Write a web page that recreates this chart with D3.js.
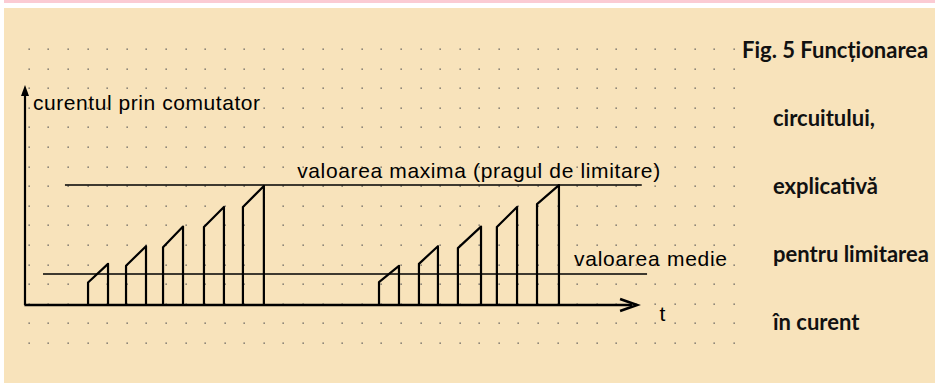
<!DOCTYPE html>
<html>
<head>
<meta charset="utf-8">
<script src="https://cdn.jsdelivr.net/npm/d3@7"></script>
<style>
  body { margin: 0; background: #fff; }
  svg { display: block; }
  .lbl { font-family: "Liberation Sans", Arial, sans-serif; font-size: 21px; fill: #000; }
  .cap { font-family: Lato, "Noto Sans", sans-serif; font-weight: bold; font-size: 22px; fill: #111; }
</style>
</head>
<body>
<script>
var swidth = 935,
    sheight = 383;

// pulses: start / end time and current at start / end of each conduction interval (grid units)
var pulseStart = [3.22, 5.16, 7.05, 9.14, 11.13, 18.08, 20.12, 22.11, 24.1, 26.15];
var pulseEnd   = [4.24, 6.18, 8.07, 10.16, 12.2, 19.1, 21.09, 23.29, 25.13, 27.27];
var riseFrom   = [1.15, 2.0, 2.95, 3.98, 5.0, 1.17, 2.1, 2.9, 3.98, 5.15];
var riseTo     = [2.1, 3.0, 4.0, 5.0, 6.07, 2.0, 3.0, 4.0, 5.0, 6.12];

var maxLevel = 6.12,   // valoarea maxima
    meanLevel = 1.58;  // valoarea medie

var captionLines = ["Fig. 5 Funcționarea", "circuitului,", "explicativă", "pentru limitarea", "în curent"];

var x = d3.scaleLinear().domain([0, 1]).range([25, 25 + 19.58]);
var y = d3.scaleLinear().domain([0, 1]).range([305, 305 - 19.6]);

var svg = d3.select("body").append("svg")
    .attr("width", swidth)
    .attr("height", sheight);

svg.append("rect").attr("width", swidth).attr("height", sheight).attr("fill", "#fff");
svg.append("rect").attr("x", 4).attr("y", 0).attr("width", swidth - 4).attr("height", 3).attr("fill", "#fbcbd3");
svg.append("rect").attr("x", 4).attr("y", 8).attr("width", swidth - 4).attr("height", sheight - 8).attr("fill", "#f8e3bb");

// dotted grid paper
var cols = d3.range(0, 37).map(function(k) { return 0.2 + k; }),
    rows = d3.range(-2, 14).map(function(k) { return 0.06 + k; });
var dots = [];
rows.forEach(function(r) { cols.forEach(function(c) { dots.push([c, r]); }); });

svg.append("g")
  .selectAll("rect")
  .data(dots)
  .enter().append("rect")
  .attr("x", function(d) { return Math.round(x(d[0])) - 0.5; })
  .attr("y", function(d) { return Math.round(y(d[1])) - 0.5; })
  .attr("width", 1.3)
  .attr("height", 1.3)
  .attr("fill", "#555");

// level lines
svg.append("line")
  .attr("x1", x(2.04)).attr("x2", x(31.5))
  .attr("y1", y(maxLevel)).attr("y2", y(maxLevel))
  .attr("stroke", "#000").attr("stroke-width", 1.6);

svg.append("line")
  .attr("x1", x(0.92)).attr("x2", x(31.77))
  .attr("y1", y(meanLevel)).attr("y2", y(meanLevel))
  .attr("stroke", "#000").attr("stroke-width", 1.6);

// pulses
var pulses = pulseStart.map(function(s, i) {
  return [[s, 0], [s, riseFrom[i]], [pulseEnd[i], riseTo[i]], [pulseEnd[i], 0]];
});

var line = d3.line()
    .x(function(d) { return x(d[0]); })
    .y(function(d) { return y(d[1]); });

svg.append("g")
  .selectAll("path")
  .data(pulses)
  .enter().append("path")
  .attr("d", line)
  .attr("fill", "none")
  .attr("stroke", "#000")
  .attr("stroke-width", 2.2)
  .attr("stroke-linejoin", "round");

// axes
svg.append("line")
  .attr("x1", x(0)).attr("x2", x(0))
  .attr("y1", y(0)).attr("y2", y(10.9))
  .attr("stroke", "#000").attr("stroke-width", 2.2);

svg.append("path")
  .attr("d", "M" + x(0) + "," + y(11.22) + "L" + (x(0) - 4) + "," + (y(11.22) + 11) + "L" + (x(0) + 4) + "," + (y(11.22) + 11) + "Z")
  .attr("fill", "#000");

svg.append("line")
  .attr("x1", x(-0.03)).attr("x2", x(31.0))
  .attr("y1", y(0)).attr("y2", y(0))
  .attr("stroke", "#000").attr("stroke-width", 2.6);

var tip = x(31.26), ty = y(0);
svg.append("path")
  .attr("d", "M" + (tip - 17) + "," + (ty - 6) + "L" + tip + "," + ty + "L" + (tip - 17) + "," + (ty + 6))
  .attr("fill", "none").attr("stroke", "#000").attr("stroke-width", 2.6)
  .attr("stroke-linejoin", "miter");

// labels
svg.append("text").attr("class", "lbl")
  .attr("x", x(0.41)).attr("y", y(9.95))
  .attr("textLength", 227).attr("lengthAdjust", "spacing")
  .text("curentul prin comutator");

svg.append("text").attr("class", "lbl")
  .attr("x", x(13.9)).attr("y", y(6.48))
  .attr("textLength", 363).attr("lengthAdjust", "spacing")
  .text("valoarea maxima (pragul de limitare)");

svg.append("text").attr("class", "lbl")
  .attr("x", x(28.04)).attr("y", y(1.99))
  .attr("textLength", 153).attr("lengthAdjust", "spacing")
  .text("valoarea medie");

svg.append("text").attr("class", "lbl")
  .attr("x", x(32.4)).attr("y", y(-0.82))
  .text("t");

// caption
svg.append("g")
  .selectAll("text")
  .data(captionLines)
  .enter().append("text")
  .attr("class", "cap")
  .attr("x", function(d, i) { return i === 0 ? 742 : 773; })
  .attr("y", function(d, i) { return 58 + i * 68; })
  .text(function(d) { return d; });
</script>
</body>
</html>
